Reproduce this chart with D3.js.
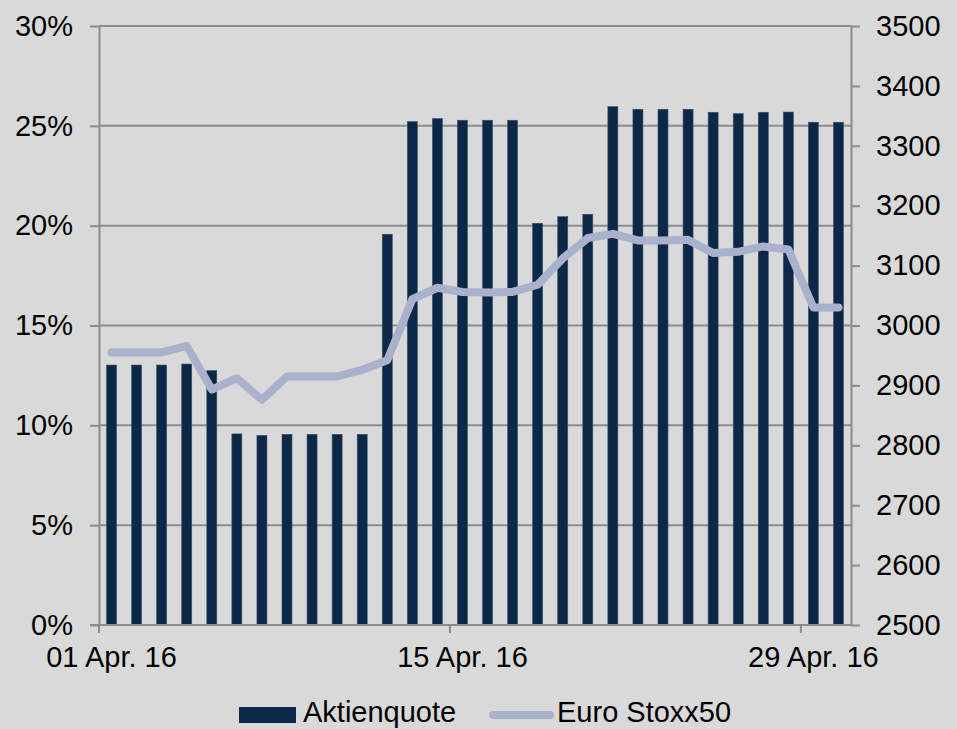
<!DOCTYPE html>
<html>
<head>
<meta charset="utf-8">
<script src="https://cdn.jsdelivr.net/npm/d3@7"></script>
<style>
    body { margin: 0; background: #d9d9d9; }
    svg { display: block; font-family: "Liberation Sans", Arial, sans-serif; }
</style>
</head>
<body>
<div id="chart"></div>
<script>
// Data
const dates = [
    "01 Apr. 16", "02 Apr. 16", "03 Apr. 16", "04 Apr. 16", "05 Apr. 16", "06 Apr. 16",
    "07 Apr. 16", "08 Apr. 16", "09 Apr. 16", "10 Apr. 16", "11 Apr. 16", "12 Apr. 16",
    "13 Apr. 16", "14 Apr. 16", "15 Apr. 16", "16 Apr. 16", "17 Apr. 16", "18 Apr. 16",
    "19 Apr. 16", "20 Apr. 16", "21 Apr. 16", "22 Apr. 16", "23 Apr. 16", "24 Apr. 16",
    "25 Apr. 16", "26 Apr. 16", "27 Apr. 16", "28 Apr. 16", "29 Apr. 16", "30 Apr. 16"
];
const aktienquote = [
    0.1302, 0.1302, 0.1302, 0.1307, 0.1274, 0.0957, 0.0950, 0.0955, 0.0955, 0.0955,
    0.0955, 0.1957, 0.2521, 0.2536, 0.2528, 0.2528, 0.2528, 0.2012, 0.2045, 0.2057,
    0.2596, 0.2583, 0.2583, 0.2583, 0.2568, 0.2561, 0.2568, 0.2569, 0.2518, 0.2518
];
const stoxx = [
    2955, 2955, 2955, 2966, 2893, 2912, 2876, 2915, 2915, 2915,
    2926, 2942, 3044, 3063, 3056, 3055, 3056, 3068, 3112, 3146,
    3153, 3142, 3142, 3143, 3121, 3123, 3132, 3127, 3030, 3030
];
const leftTicks = [0, 0.05, 0.10, 0.15, 0.20, 0.25, 0.30];
const rightTicks = [2500, 2600, 2700, 2800, 2900, 3000, 3100, 3200, 3300, 3400, 3500];
const labelDates = ["01 Apr. 16", "15 Apr. 16", "29 Apr. 16"];
const seriesNames = ["Aktienquote", "Euro Stoxx50"];

// Canvas
const width = 957, height = 729;
const plot = { left: 99, right: 851, top: 26, bottom: 625 };
const barColor = "#0c2849", lineColor = "#aab1cc", axisColor = "#8c8c8c";

const svg = d3.select("#chart")
    .append("svg")
    .attr("width", width)
    .attr("height", height);

// Scales
const x = d3.scaleBand().domain(dates).range([plot.left, plot.right]);
const yLeft = d3.scaleLinear().domain([0, 0.30]).range([plot.bottom, plot.top]);
const yRight = d3.scaleLinear().domain([2500, 3500]).range([plot.bottom, plot.top]);

// Gridlines
svg.append("g")
    .selectAll("line")
    .data(leftTicks.slice(1))
    .join("line")
    .attr("x1", plot.left).attr("x2", plot.right)
    .attr("y1", d => yLeft(d)).attr("y2", d => yLeft(d))
    .attr("stroke", axisColor).attr("stroke-width", 2);

// Left axis
const leftAxis = svg.append("g")
    .attr("transform", `translate(${plot.left},0)`)
    .call(d3.axisLeft(yLeft).tickValues(leftTicks).tickFormat(d3.format(".0%"))
        .tickSize(9).tickSizeOuter(0).tickPadding(17));

// Right axis
const rightAxis = svg.append("g")
    .attr("transform", `translate(${plot.right},0)`)
    .call(d3.axisRight(yRight).tickValues(rightTicks).tickFormat(d3.format("d"))
        .tickSize(9).tickSizeOuter(0).tickPadding(16));

[leftAxis, rightAxis].forEach(g => {
    g.select(".domain").attr("stroke", axisColor).attr("stroke-width", 2);
    g.selectAll(".tick line").attr("stroke", axisColor).attr("stroke-width", 2);
    g.selectAll(".tick text").attr("fill", "#000").style("font-size", "29px");
});

// Bars
svg.append("g")
    .selectAll("rect")
    .data(dates)
    .join("rect")
    .attr("x", d => x(d) + x.bandwidth() / 2 - 5)
    .attr("width", 10)
    .attr("y", (d, i) => yLeft(aktienquote[i]))
    .attr("height", (d, i) => yLeft(0) - yLeft(aktienquote[i]))
    .attr("fill", barColor)
    .attr("stroke", "#3c5068")
    .attr("stroke-width", 0.6);

// Bottom axis
const bottom = svg.append("g");
bottom.append("line")
    .attr("x1", plot.left - 9).attr("x2", plot.right)
    .attr("y1", plot.bottom).attr("y2", plot.bottom)
    .attr("stroke", axisColor).attr("stroke-width", 2);
bottom.selectAll(".xtick")
    .data(labelDates)
    .join("line")
    .attr("x1", d => x(d)).attr("x2", d => x(d))
    .attr("y1", plot.bottom).attr("y2", plot.bottom + 8)
    .attr("stroke", axisColor).attr("stroke-width", 2);
bottom.selectAll("text")
    .data(labelDates)
    .join("text")
    .attr("x", d => x(d) + x.bandwidth() / 2)
    .attr("y", 667)
    .attr("text-anchor", "middle")
    .style("font-size", "29px")
    .text(d => d);

// Line
svg.append("path")
    .datum(stoxx)
    .attr("fill", "none")
    .attr("stroke", lineColor)
    .attr("stroke-width", 8)
    .attr("stroke-linejoin", "round")
    .attr("stroke-linecap", "round")
    .attr("d", d3.line()
        .x((d, i) => x(dates[i]) + x.bandwidth() / 2)
        .y(d => yRight(d)));

// Legend (nudged up a little so the descenders stay inside the picture)
const legend = svg.append("g");
legend.append("rect")
    .attr("x", 239).attr("y", 707).attr("width", 57).attr("height", 16)
    .attr("fill", barColor);
legend.append("text")
    .attr("x", 303).attr("y", 722)
    .style("font-size", "29px")
    .text(seriesNames[0]);
legend.append("line")
    .attr("x1", 493).attr("x2", 550).attr("y1", 715).attr("y2", 715)
    .attr("stroke", lineColor).attr("stroke-width", 8).attr("stroke-linecap", "round");
legend.append("text")
    .attr("x", 557).attr("y", 722)
    .style("font-size", "29px")
    .text(seriesNames[1]);
</script>
</body>
</html>
